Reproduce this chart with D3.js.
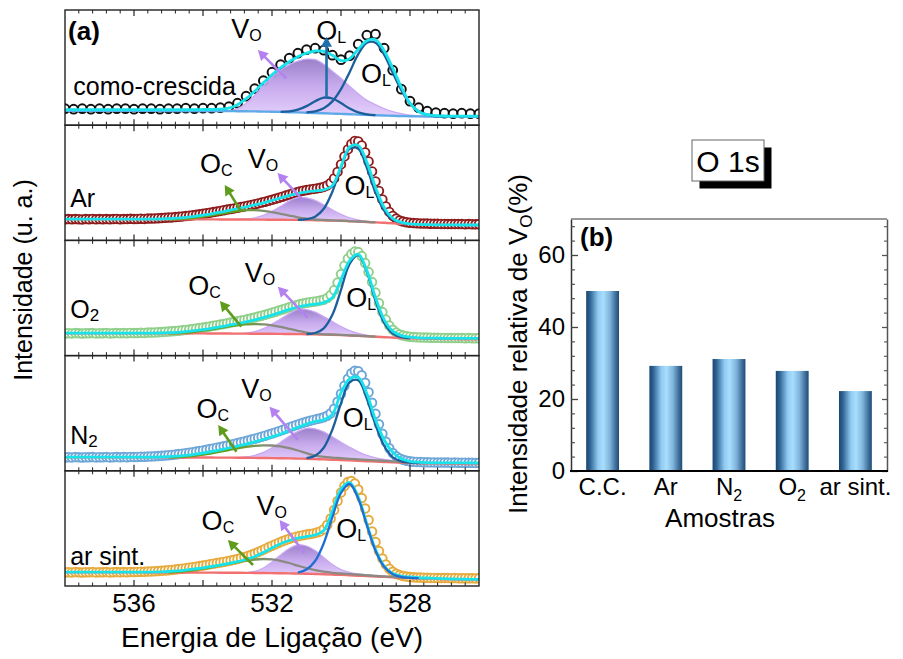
<!DOCTYPE html>
<html>
<head>
<meta charset="utf-8">
<script src="https://cdn.jsdelivr.net/npm/d3@7/dist/d3.min.js"></script>
<style>
  html, body { margin: 0; padding: 0; background: #fff; }
  svg { display: block; }
  text { font-family: "Liberation Sans", Arial, Helvetica, sans-serif; fill: #000; }
</style>
</head>
<body>
<svg id="fig" width="903" height="659"></svg>
<script>
// ---------- binding-energy grids (eV) ----------
const eFit = [538,537.75,537.5,537.25,537,536.75,536.5,536.25,536,535.75,535.5,535.25,535,534.75,534.5,534.25,534,533.75,533.5,533.25,533,532.75,532.5,532.25,532,531.75,531.5,531.25,531,530.75,530.5,530.25,530,529.75,529.5,529.25,529,528.75,528.5,528.25,528,527.75,527.5,527.25,527,526.75,526.5,526.25,526];
const eScan = [538.0,537.9,537.8,537.7,537.6,537.5,537.4,537.3,537.2,537.1,537.0,536.9,536.8,536.7,536.6,536.5,536.4,536.3,536.2,536.1,536.0,535.9,535.8,535.7,535.6,535.5,535.4,535.3,535.2,535.1,535.0,534.9,534.8,534.7,534.6,534.5,534.4,534.3,534.2,534.1,534.0,533.9,533.8,533.7,533.6,533.5,533.4,533.3,533.2,533.1,533.0,532.9,532.8,532.7,532.6,532.5,532.4,532.3,532.2,532.1,532.0,531.9,531.8,531.7,531.6,531.5,531.4,531.3,531.2,531.1,531.0,530.9,530.8,530.7,530.6,530.5,530.4,530.3,530.2,530.1,530.0,529.9,529.8,529.7,529.6,529.5,529.4,529.3,529.2,529.1,529.0,528.9,528.8,528.7,528.6,528.5,528.4,528.3,528.2,528.1,528.0,527.9,527.8,527.7,527.6,527.5,527.4,527.3,527.2,527.1,527.0,526.9,526.8,526.7,526.6,526.5,526.4,526.3,526.2,526.1,526.0];

// ---------- O 1s spectra (intensity, u. a.) ----------
// como-crescida
const ccData = [16.5,16,16.5,16,16.5,16,16.5,16.5,16,16.5,16.5,16,16.5,16.5,17,16.5,17,17,17.5,18.5,22,29,36.5,44.5,53,60.5,67,72,75.5,77,75,70,65.5,69.5,81,90,91,77,55,36,24,17.5,14,12.5,12,11.5,12,11.5,11.5];
const ccFit = [15.5,15.5,15.5,15.5,15.5,15.5,15.5,15.5,15.5,15.5,15.5,15.5,15.5,15.5,15.6,15.6,15.7,15.8,16.0,17,20.5,26.5,34,42.5,50.5,57.5,63.5,68.5,72,74.2,73.8,70,64.5,66.5,76,84.5,85.5,74.5,57,38,22,13.5,10.5,9.5,9.2,9.1,9,9,9];
const ccBg = [14.5,14.5,14.5,14.4,14.4,14.4,14.4,14.3,14.3,14.3,14.3,14.3,14.2,14.2,14.2,14.2,14.2,14.2,14.1,14.1,14.0,13.9,13.8,13.6,13.5,13.3,13.0,12.8,12.5,12.2,11.9,11.6,11.3,11.0,10.6,10.3,10.0,9.7,9.4,9.2,9.0,8.8,8.7,8.65,8.6,8.6,8.55,8.5,8.5];
const ccVo = [14.1,16.5,22,30,39.5,48,55,60.5,64,66,65.5,61,54,47,39,31.5,25,20.5,16.5,13.5,11.5,10,9.3,8.9,8.65,8.6];
const ccOl = [12.9,13.9,16.9,23.8,36,53,71,82.5,82.5,70.5,52.5,35,21.5,14,10.5,9.2,8.7];
const ccOl2 = [13.4,13.8,15.5,19.1,24,27.5,26.7,22.1,16.6,12.8,10.9,10.1];

// Ar
const arData = [21.0,21.3,21.1,21.4,21.2,21.0,21.3,21.2,21.5,21.1,21.3,
  21.2,21.4,21.1,21.3,21.5,21.2,21.4,21.3,21.6,21.4,
  21.5,21.7,21.5,21.8,21.9,22.0,22.2,22.3,22.6,22.8,
  23.0,23.3,23.6,24.0,24.3,24.7,25.2,25.6,26.1,26.6,
  27.2,27.7,28.3,28.9,29.5,30.2,30.8,31.4,32.0,32.7,
  33.4,34.0,34.7,35.4,36.2,37.0,37.8,38.7,39.6,40.6,
  41.6,42.6,43.7,44.8,45.9,47.0,48.0,48.9,49.7,50.4,
  51.0,51.5,52.0,52.6,53.5,55.0,57.5,62.0,68.5,76.0,
  84.0,91.0,96.5,99.5,99.0,95.0,88.0,79.0,69.0,59.0,
  49.5,41.0,34.0,28.5,24.5,21.8,20.0,18.9,18.2,17.7,
  17.4,17.2,17.0,16.9,16.8,16.7,16.6,16.6,16.5,16.5,
  16.4,16.4,16.3,16.4,16.3,16.2,16.3,16.2,16.1,16.2];
const arFit = [21.2,21.2,21.2,21.2,21.2,21.2,21.2,21.2,21.2,21.25,21.3,21.4,21.7,22.2,23,24,25.2,26.6,28.2,30,31.8,33.6,35.5,37.6,40,42.5,45,47,48.5,49.5,50.5,55,74,93.5,95,78,53,33,22,18,16.5,16,15.8,15.6,15.5,15.5,15.4,15.4,15.4];
const arBg = [21.2,21.2,21.2,21.2,21.2,21.15,21.15,21.1,21.1,21.1,21.1,21.05,21.05,21.05,21.0,21.0,21.0,21.0,20.95,20.95,20.9,20.85,20.8,20.75,20.7,20.65,20.55,20.5,20.4,20.2,20.0,19.8,19.6,19.2,18.8,18.4,18.0,17.6,17.2,16.7,16.3,16.0,15.8,15.7,15.6,15.5,15.5,15.4,15.4];
const arOl = [20.5,21.2,23.7,31.6,48.7,72.9,91.7,91.7,72.6,47.8,29.8,20.8,17.6,16.4];
const arVo = [20.9,21.2,22.5,25,29,34,39.5,42.8,42.5,40,35.5,30.5,26,22.5,20.5,19,18.2,17.7,17.2];
const arOc = [21.05,21.3,21.8,22.6,23.7,25,26.5,28,29.3,30.2,30.3,29.6,28.3,26.6,24.8,23.1,21.8,20.9,20.4,20.0,19.7,19.3,18.9,18.5,18.1];

// O2
const o2Data = [22.1,22.4,22.2,22.5,22.3,22.1,22.4,22.3,22.5,22.2,22.4,
  22.3,22.5,22.2,22.4,22.6,22.3,22.5,22.4,22.7,22.5,
  22.6,22.8,22.7,23.0,23.1,23.2,23.4,23.6,23.8,24.0,
  24.3,24.6,24.9,25.3,25.7,26.1,26.6,27.0,27.5,28.0,
  28.6,29.2,29.8,30.4,31.0,31.6,32.3,33.0,33.6,34.3,
  35.0,35.7,36.5,37.3,38.1,39.0,39.9,40.8,41.8,42.8,
  43.9,45.0,46.1,47.2,48.3,49.4,50.4,51.3,52.1,52.8,
  53.4,53.9,54.4,55.0,55.9,57.5,60.5,65.5,73.0,81.5,
  90.0,97.0,101.5,104.0,103.5,99.5,92.5,83.5,73.5,63.0,
  52.5,43.5,36.0,30.0,25.8,23.0,21.2,20.1,19.4,18.9,
  18.6,18.4,18.2,18.1,18.0,17.9,17.8,17.8,17.7,17.7,
  17.6,17.6,17.5,17.6,17.5,17.4,17.5,17.4,17.3,17.4];
const o2Fit = [22.4,22.4,22.4,22.4,22.4,22.4,22.4,22.4,22.4,22.45,22.5,22.6,22.9,23.3,24,24.9,26,27.3,28.8,30.4,32,33.8,35.8,38,40.5,43.3,46.2,48.6,50.3,51.5,53,58,76,95,101.5,85,58,36,24.5,20,18.5,17.8,17.5,17.4,17.3,17.3,17.2,17.2,17.2];
const o2Bg = [22.4,22.4,22.4,22.4,22.35,22.35,22.3,22.3,22.3,22.3,22.3,22.25,22.25,22.25,22.2,22.2,22.2,22.15,22.1,22.05,22.0,21.95,21.9,21.85,21.8,21.7,21.6,21.5,21.4,21.2,21.0,20.8,20.5,20.1,19.7,19.3,18.8,18.4,18.0,17.6,17.2,17.0,16.8,16.7,16.6,16.5,16.4,16.35,16.3];
const o2Ol = [21.6,22.6,27.3,40.8,65.6,91.8,100.4,83.5,54.9,32.8,22,18.4,17.3];
const o2Vo = [22,22.5,24,27,31.5,36.5,42,46,46,43.5,39,34,29,25,22.3,20.5,19.3,18.6,18.1,17.6];
const o2Oc = [22.25,22.5,23,23.8,25,26.3,27.7,29.2,30.4,31.2,31.5,31.3,30.3,28.8,26.8,24.8,23,21.9,21.3,21.0,20.7,20.3,19.9,19.5,19.0];

// N2
const n2Data = [13.3,13.6,13.4,13.7,13.5,13.3,13.6,13.5,13.7,13.4,13.6,
  13.5,13.7,13.4,13.6,13.8,13.5,13.7,13.6,13.9,13.8,
  13.9,14.1,14.0,14.3,14.4,14.6,14.8,15.0,15.3,15.6,
  15.9,16.3,16.7,17.1,17.6,18.1,18.6,19.2,19.8,20.4,
  21.0,21.7,22.4,23.1,23.8,24.5,25.3,26.1,26.9,27.7,
  28.5,29.4,30.3,31.2,32.1,33.1,34.1,35.1,36.2,37.3,
  38.4,39.6,40.8,42.0,43.2,44.5,45.7,46.9,48.0,49.0,
  50.0,50.9,51.7,52.5,53.5,55.0,57.5,62.0,69.0,77.0,
  85.0,92.0,97.5,100.0,99.5,95.5,88.0,78.5,68.0,57.0,
  46.5,37.0,29.0,22.5,17.8,14.5,12.4,11.0,10.1,9.5,
  9.1,8.9,8.7,8.6,8.5,8.4,8.4,8.3,8.3,8.2,
  8.2,8.1,8.2,8.1,8.0,8.1,8.0,8.0,7.9,8.0];
const n2Fit = [13.6,13.6,13.6,13.6,13.6,13.6,13.6,13.6,13.6,13.65,13.7,13.8,14.1,14.6,15.4,16.5,17.8,19.3,21,22.8,24.7,26.7,28.9,31.3,34,36.8,40,43.5,46.7,49.3,51,56.5,78,92,93.5,77,51,31,18.5,12,9.5,8.6,8.2,8.0,8.0,7.9,7.9,7.8,7.8];
const n2Bg = [13.6,13.6,13.6,13.55,13.55,13.55,13.5,13.5,13.5,13.45,13.45,13.4,13.4,13.4,13.35,13.35,13.3,13.25,13.2,13.15,13.1,13.0,12.9,12.8,12.7,12.55,12.4,12.2,12.0,11.7,11.4,11.1,10.8,10.4,10.0,9.6,9.2,8.8,8.4,8.1,7.8,7.6,7.4,7.2,7.1,7.0,6.9,6.85,6.8];
const n2Ol = [12.7,15,23.1,41.2,67.5,88.6,90.5,72,46,25,13.5,9.5,8.2,7.7];
const n2Vo = [13.1,13.8,15.5,18.5,23,28.5,34.5,39.5,42.5,42,39,34,28.5,23.5,19,15.5,13,11.3,10.2,9.6,8.8,8.2,7.6];
const n2Oc = [13.4,13.7,14.2,15,16.1,17.5,19.1,20.8,22.5,24,25,25.5,25.3,24.4,22.6,20.3,17.6,15.2,14,13.2,12.6,12,11.5,11,10.5,10,9.4,8.8,8.2,7.7,7.4];

// ar sintético
const asData = [13.5,13.8,13.6,13.9,13.7,13.5,13.8,13.7,13.9,13.6,13.8,
  13.7,13.9,13.6,13.8,14.0,13.7,13.9,13.8,14.1,14.0,
  14.1,14.3,14.2,14.5,14.6,14.8,15.0,15.2,15.5,15.8,
  16.1,16.5,16.9,17.3,17.8,18.3,18.8,19.3,19.9,20.5,
  21.1,21.7,22.3,22.9,23.5,24.1,24.8,25.5,26.2,27.0,
  27.9,28.9,30.0,31.2,32.5,34.0,35.5,37.1,38.7,40.3,
  41.8,43.3,44.7,46.0,47.2,48.3,49.3,50.1,50.8,51.4,
  52.0,52.6,53.4,54.6,56.8,61.0,67.5,76.0,85.0,93.5,
  100.0,104.0,105.0,102.5,96.5,88.0,77.5,66.0,54.5,44.0,
  35.0,27.5,21.5,17.2,14.2,12.2,10.9,10.0,9.4,9.0,
  8.7,8.5,8.4,8.3,8.2,8.1,8.1,8.0,8.0,7.9,
  7.9,7.8,7.9,7.8,7.7,7.8,7.7,7.7,7.6,7.7];
const asFit = [13.8,13.8,13.8,13.8,13.8,13.8,13.8,13.8,13.8,13.85,13.9,14.1,14.5,15.1,15.9,17,18.2,19.5,21,22.6,24.3,26.5,29.5,33.5,38,42.3,45.5,47.8,49.5,51,55.5,75,97,103.5,89,62,36.5,20,12.5,10,9,8.4,8,7.6,7.3,7,6.8,6.6,6.5];
const asBg = [13.8,13.8,13.75,13.75,13.7,13.7,13.65,13.65,13.6,13.6,13.55,13.55,13.5,13.5,13.45,13.45,13.4,13.35,13.3,13.25,13.2,13.15,13.05,13.0,12.9,12.75,12.6,12.5,12.3,12.0,11.7,11.4,11.1,10.7,10.3,9.9,9.5,9.1,8.7,8.3,8.0,7.7,7.4,7.1,6.8,6.6,6.45,6.3,6.2];
const asOl = [13.5,16.5,25,42.7,68.8,93,102,87.3,60.6,35.3,19.2,11.8,9,8.2,7.8];
const asVo = [13.2,13.4,14.5,18,24,31,37.5,41,40,35.5,28.5,21.5,16.5,13.5,12,11,10.3,9.8,9.3,8.7,8.1];
const asOc = [13.5,14.1,14.9,16,17.4,19,20.7,22.4,24,25.4,26.5,27,26.6,25.2,23,20.3,17.8,15.8,14.3,13.2,12.5,11.9,11.3,10.7,10.1,9.6,9.1,8.6,8.1,7.7,7.4];

// ---------- relative V_O intensity (%) ----------
const samplesB = ["C.C.", "Ar", "N2", "O2", "ar sint."];
const voPercent = [50.0, 29.2, 31.1, 27.8, 22.2];
const yTicksB = [0, 20, 40, 60];
const xTicksA = [536, 532, 528];
const xMajorA = [536, 534, 532, 530, 528];

// ---------- panel table ----------
const panels = [
  { name: ["como-crescida", ""], nameAt: [537.76, 30.2], dataE: eFit, data: ccData, fit: ccFit, bg: ccBg,
    comps: [ { kind: "vo", from: 533.25, v: ccVo }, { kind: "ol", from: 531.75, v: ccOl2 }, { kind: "ol", from: 531, v: ccOl } ],
    dot: "#111", r: 4.4, sw: 2.0, bgColor: "#5ea9e8", olColor: "#1b5e9b", olOnTop: false,
    labels: [["V","O",533.18,86.9],["O","L",530.72,85.2],["O","L",529.42,42.2]],
    arrows: [["vo",531.59,46.9,532.41,75.2],["ol",530.42,28.5,530.42,88.5]] },
  { name: ["Ar", ""], nameAt: [537.85, 33.7], dataE: eScan, data: arData, fit: arFit, bg: arBg,
    comps: [ { kind: "vo", from: 533, v: arVo }, { kind: "oc", from: 535, v: arOc }, { kind: "ol", from: 531.25, v: arOl } ],
    dot: "#8e1b1b", r: 4.3, sw: 1.9, bgColor: "#f27070", olColor: "#1b5e9b", olOnTop: false,
    labels: [["O","C",534.09,67.4],["V","O",532.70,72.1],["O","L",529.9,45.4]],
    arrows: [["oc",532.89,28.7,533.37,55.4],["vo",531.06,38.7,531.84,67.4]] },
  { name: ["O", "2"], nameAt: [537.85, 37.6], dataE: eScan, data: o2Data, fit: o2Fit, bg: o2Bg,
    comps: [ { kind: "vo", from: 533, v: o2Vo }, { kind: "oc", from: 535, v: o2Oc }, { kind: "ol", from: 531, v: o2Ol } ],
    dot: "#8fcf8a", r: 4.3, sw: 1.9, bgColor: "#f27070", olColor: "#1b5e9b", olOnTop: false,
    labels: [["O","C",534.43,60.6],["V","O",532.79,73.9],["O","L",529.85,48.6]],
    arrows: [["oc",532.89,28.9,533.51,54.6],["vo",530.97,37.9,531.83,68.9]] },
  { name: ["N", "2"], nameAt: [537.85, 27.3], dataE: eScan, data: n2Data, fit: n2Fit, bg: n2Bg,
    comps: [ { kind: "vo", from: 533, v: n2Vo }, { kind: "oc", from: 535, v: n2Oc }, { kind: "ol", from: 531, v: n2Ol } ],
    dot: "#6ea6d8", r: 4.3, sw: 1.9, bgColor: "#f27070", olColor: "#1b5e9b", olOnTop: false,
    labels: [["O","C",534.19,52.5],["V","O",532.89,72.5],["O","L",529.95,44.1]],
    arrows: [["oc",533.03,19.1,533.56,45.8],["vo",531.25,30.8,532.07,64.1]] },
  { name: ["ar sint.", ""], nameAt: [537.85, 21], dataE: eScan, data: asData, fit: asFit, bg: asBg,
    comps: [ { kind: "vo", from: 533, v: asVo }, { kind: "oc", from: 535, v: asOc }, { kind: "ol", from: 531.25, v: asOl } ],
    dot: "#e6aa3c", r: 4.3, sw: 1.9, bgColor: "#f27070", olColor: "#1e6fd4", olOnTop: true,
    labels: [["O","C",534.04,56],["V","O",532.45,71],["O","L",530.14,47.7]],
    arrows: [["oc",532.55,21,533.28,46],["vo",531.06,32.7,531.78,66]] }
];
const arrowColor = { vo: "#b482f0", oc: "#5f9c1e", ol: "#2070aa" };

// ---------- drawing ----------
const svg = d3.select("#fig");
const defs = svg.append("defs");

const x = d3.scaleLinear().domain([538, 526]).range([65, 479]);
const frameTop = 10, frameH = 115.2;

function addGradient(id, attrs, stops) {
  const g = defs.append("linearGradient").attr("id", id);
  Object.entries(attrs).forEach(([k, v]) => g.attr(k, v));
  g.selectAll("stop").data(stops).join("stop")
    .attr("offset", d => d[0]).attr("stop-color", d => d[1]);
}
addGradient("voFill", { x1: 0, y1: 0, x2: 0, y2: 1 },
  [["0%", "#9073c3"], ["45%", "#c0a0ea"], ["100%", "#e2cbfc"]]);
addGradient("ocStroke", { gradientUnits: "userSpaceOnUse", x1: x(533.0), y1: 0, x2: x(532.0), y2: 0 },
  [["0%", "#62a01c"], ["100%", "#8a8a82"]]);
addGradient("barFill", { x1: 0, y1: 0, x2: 1, y2: 0 },
  [["0%", "#1a4570"], ["12%", "#2f6494"], ["36%", "#8fcaf1"], ["52%", "#a9defd"], ["72%", "#80b4dc"], ["90%", "#3d6e99"], ["100%", "#1e4b76"]]);

function subText(g, px, py, main, sub, size, subSize, drop, extra) {
  const t = g.append("text").attr("x", px).attr("y", py).attr("font-size", size);
  t.append("tspan").text(main);
  if (sub) t.append("tspan").attr("font-size", subSize).attr("dy", drop).text(sub);
  if (extra) t.append("tspan").attr("dy", -drop).text(extra);
  return t;
}

function arrow(g, x0, y0, x1, y1, color) {
  const dx = x1 - x0, dy = y1 - y0, L = Math.hypot(dx, dy);
  const ux = dx / L, uy = dy / L, hl = 10, hw = 5.5;
  const bx = x1 - ux * hl, by = y1 - uy * hl;
  g.append("line").attr("x1", x0).attr("y1", y0).attr("x2", bx + ux).attr("y2", by + uy)
    .attr("stroke", color).attr("stroke-width", 2.6);
  g.append("path")
    .attr("d", `M${x1},${y1}L${bx - uy * hw},${by + ux * hw}L${bx + uy * hw},${by - ux * hw}Z`)
    .attr("fill", color);
}

const minorA = d3.range(1, 30).map(k => +(538 - 0.4 * k).toFixed(1)).filter(v => !xMajorA.includes(v));

panels.forEach((p, i) => {
  const t = frameTop + i * frameH, b = t + frameH;
  const y = d3.scaleLinear().domain([0, 115.2]).range([b, t]);
  const g = svg.append("g");
  defs.append("clipPath").attr("id", "clip" + i)
    .append("rect").attr("x", 65).attr("y", t).attr("width", 414).attr("height", frameH);
  const plot = g.append("g").attr("clip-path", `url(#clip${i})`);
  const curve = d3.curveCatmullRom.alpha(0.5);
  const fitIdx = eFit.map((d, k) => k);

  // measured points
  plot.append("g").selectAll("circle").data(p.data).join("circle")
    .attr("cx", (d, k) => x(p.dataE[k])).attr("cy", d => y(d)).attr("r", p.r)
    .attr("fill", "#fff").attr("stroke", p.dot).attr("stroke-width", p.sw);

  // fitted components
  const compPaths = p.comps.map(c => {
    const k0 = eFit.indexOf(c.from);
    const idx = c.v.map((d, j) => k0 + j);
    return { c, idx };
  });
  compPaths.filter(o => o.c.kind === "vo").forEach(({ c, idx }) => {
    const k0 = idx[0];
    const area = d3.area().curve(curve)
      .x(k => x(eFit[k])).y0(k => y(p.bg[k])).y1(k => y(c.v[k - k0]));
    plot.append("path").attr("d", area(idx)).attr("fill", "url(#voFill)").attr("fill-opacity", 0.9);
    const top = d3.line().curve(curve).x(k => x(eFit[k])).y(k => y(c.v[k - k0]));
    plot.append("path").attr("d", top(idx)).attr("fill", "none")
      .attr("stroke", "#cba8f4").attr("stroke-width", 1.3);
  });

  // background
  plot.append("path")
    .attr("d", d3.line().curve(curve).x(k => x(eFit[k])).y(k => y(p.bg[k]))(fitIdx))
    .attr("fill", "none").attr("stroke", p.bgColor).attr("stroke-width", 2.4);

  const drawComp = kind => compPaths.filter(o => o.c.kind === kind).forEach(({ c, idx }) => {
    const k0 = idx[0];
    const ln = d3.line().curve(curve).x(k => x(eFit[k])).y(k => y(c.v[k - k0]));
    plot.append("path").attr("d", ln(idx)).attr("fill", "none")
      .attr("stroke", kind === "oc" ? "url(#ocStroke)" : p.olColor)
      .attr("stroke-width", 2.3);
  });
  drawComp("oc");
  if (!p.olOnTop) drawComp("ol");

  // envelope
  plot.append("path")
    .attr("d", d3.line().curve(curve).x(k => x(eFit[k])).y(k => y(p.fit[k]))(fitIdx))
    .attr("fill", "none").attr("stroke", "#18e2ea").attr("stroke-width", 2.8);
  if (p.olOnTop) drawComp("ol");

  // frame and inward ticks
  g.append("rect").attr("x", 65).attr("y", t).attr("width", 414).attr("height", frameH)
    .attr("fill", "none").attr("stroke", "#222").attr("stroke-width", 1.4);
  [[t, 1], [b, -1]].forEach(([yy, dir]) => {
    g.append("g").selectAll("line").data(xMajorA).join("line")
      .attr("x1", d => x(d)).attr("x2", d => x(d)).attr("y1", yy).attr("y2", yy + dir * 6)
      .attr("stroke", "#222").attr("stroke-width", 1.2);
    g.append("g").selectAll("line").data(minorA).join("line")
      .attr("x1", d => x(d)).attr("x2", d => x(d)).attr("y1", yy).attr("y2", yy + dir * 3.5)
      .attr("stroke", "#222").attr("stroke-width", 1);
  });

  // annotations
  const ann = g.append("g");
  subText(ann, x(p.nameAt[0]), y(p.nameAt[1]), p.name[0], p.name[1], 25, 17, 3);
  p.labels.forEach(([m, s, E, v]) => subText(ann, x(E), y(v), m, s, 27, 16, 3));
  p.arrows.forEach(([c, E0, v0, E1, v1]) => arrow(ann, x(E0), y(v0), x(E1), y(v1), arrowColor[c]));
  if (i === 0) {
    ann.append("text").attr("x", x(537.91)).attr("y", y(85.2)).attr("font-size", 26)
      .attr("font-weight", "bold").text("(a)");
  }
});

// bottom tick labels of panel (a)
const bottomA = frameTop + 5 * frameH;
svg.append("g").selectAll("text").data(xTicksA).join("text")
  .attr("x", d => x(d)).attr("y", bottomA + 26).attr("text-anchor", "middle")
  .attr("font-size", 26).text(d => d);

svg.append("text").attr("x", 272).attr("y", 647).attr("text-anchor", "middle")
  .attr("font-size", 28).text("Energia de Ligação (eV)");
svg.append("text").attr("transform", "translate(32,280) rotate(-90)").attr("text-anchor", "middle")
  .attr("font-size", 25).text("Intensidade (u. a.)");

// ---------- panel (b) ----------
const xb = d3.scaleBand().domain(samplesB).range([571, 887]).paddingInner(0.48).paddingOuter(0.24);
const yb = d3.scaleLinear().domain([0, 70]).range([471, 219]);
const gb = svg.append("g");

gb.selectAll("rect.bar").data(samplesB).join("rect").attr("class", "bar")
  .attr("x", d => xb(d)).attr("width", xb.bandwidth())
  .attr("y", (d, k) => yb(voPercent[k])).attr("height", (d, k) => yb(0) - yb(voPercent[k]))
  .attr("fill", "url(#barFill)");

const minorB = d3.range(4, 70, 4).filter(v => !yTicksB.includes(v));
// left axis
const axL = gb.append("g").attr("transform", "translate(571,0)")
  .call(d3.axisLeft(yb).tickValues(yTicksB).tickSize(-7).tickPadding(6).tickSizeOuter(0));
axL.select(".domain").attr("stroke", "#333").attr("stroke-width", 1.5);
axL.selectAll(".tick line").attr("stroke", "#444").attr("stroke-width", 1.3);
axL.selectAll(".tick text").attr("font-size", 24).attr("font-family", null).attr("fill", "#000");
gb.append("g").attr("transform", "translate(571,0)")
  .call(d3.axisLeft(yb).tickValues(minorB).tickSize(-4).tickFormat("").tickSizeOuter(0))
  .call(s => s.select(".domain").remove())
  .selectAll(".tick line").attr("stroke", "#444").attr("stroke-width", 1.1);
// right axis
gb.append("g").attr("transform", "translate(887,0)")
  .call(d3.axisRight(yb).tickValues(yTicksB).tickSize(-5).tickFormat("").tickSizeOuter(0))
  .call(s => s.select(".domain").attr("stroke", "#555").attr("stroke-width", 1.5))
  .selectAll(".tick line").attr("stroke", "#555").attr("stroke-width", 1.3);
gb.append("g").attr("transform", "translate(887,0)")
  .call(d3.axisRight(yb).tickValues(minorB).tickSize(-3).tickFormat("").tickSizeOuter(0))
  .call(s => s.select(".domain").remove())
  .selectAll(".tick line").attr("stroke", "#555").attr("stroke-width", 1.1);
// top and bottom lines
gb.append("line").attr("x1", 571).attr("x2", 887).attr("y1", 219).attr("y2", 219)
  .attr("stroke", "#777").attr("stroke-width", 1.5);
gb.append("line").attr("x1", 570).attr("x2", 888).attr("y1", 471).attr("y2", 471)
  .attr("stroke", "#000").attr("stroke-width", 2.2);

// category labels
samplesB.forEach(s => {
  const m = s.match(/^([A-Z])(\d)$/);
  const t = gb.append("text").attr("x", xb(s) + xb.bandwidth() / 2).attr("y", 495)
    .attr("text-anchor", "middle").attr("font-size", 24);
  if (m) {
    t.append("tspan").text(m[1]);
    t.append("tspan").attr("font-size", 16).attr("dy", 6).text(m[2]);
  } else t.text(s);
});

gb.append("text").attr("x", 720).attr("y", 527).attr("text-anchor", "middle")
  .attr("font-size", 26).text("Amostras");
const ylab = gb.append("text").attr("transform", "translate(527,344) rotate(-90)")
  .attr("text-anchor", "middle").attr("font-size", 26);
ylab.append("tspan").text("Intensidade relativa de V");
ylab.append("tspan").attr("font-size", 17).attr("dy", 5).text("O");
ylab.append("tspan").attr("dy", -5).text("(%)");

gb.append("text").attr("x", 580).attr("y", 246).attr("font-size", 26)
  .attr("font-weight", "bold").text("(b)");

// O 1s tag with drop shadow
gb.append("rect").attr("x", 699.5).attr("y", 147.5).attr("width", 72).attr("height", 41).attr("fill", "#000");
gb.append("rect").attr("x", 692).attr("y", 140).attr("width", 72).attr("height", 41)
  .attr("fill", "#fff").attr("stroke", "#666").attr("stroke-width", 1);
gb.append("text").attr("x", 728).attr("y", 171.5).attr("text-anchor", "middle")
  .attr("font-size", 30).text("O 1s");
</script>
</body>
</html>
